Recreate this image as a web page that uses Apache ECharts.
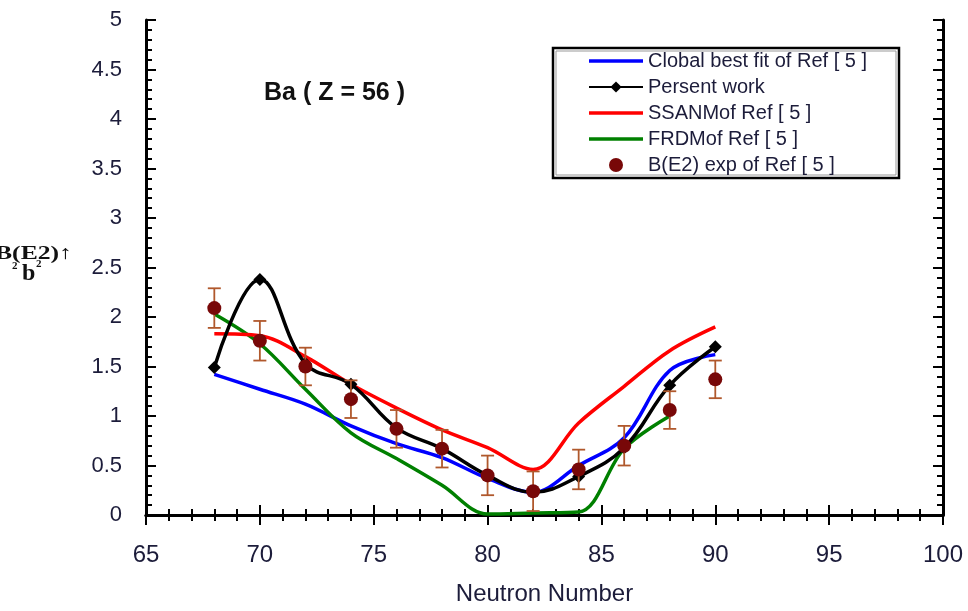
<!DOCTYPE html>
<html>
<head>
<meta charset="utf-8">
<script src="https://cdn.jsdelivr.net/npm/echarts@6/dist/echarts.min.js"></script>
<style>html,body{margin:0;padding:0;background:#fff;overflow:hidden;}#chart{width:968px;height:611px;}</style>
</head>
<body>
<div id="chart"></div>
<script>
// ---- data ----
const neutrons = [68, 70, 72, 74, 76, 78, 80, 82, 84, 86, 88, 90];
const globalFit = [1.42, 1.27, 1.12, 0.90, 0.72, 0.58, 0.37, 0.23, 0.50, 0.78, 1.46, 1.62];
const presentWork = [1.49, 2.38, 1.53, 1.32, 0.88, 0.67, 0.40, 0.23, 0.39, 0.68, 1.31, 1.70];
const ssanm = [1.83, 1.81, 1.60, 1.32, 1.08, 0.86, 0.68, 0.46, 0.93, 1.30, 1.66, 1.90];
const frdmNeutrons = [68, 70, 72, 74, 76, 78, 80, 82, 84, 86, 88];
const frdm = [2.03, 1.73, 1.27, 0.83, 0.57, 0.30, 0.01, 0.02, 0.03, 0.67, 1.00];
const expValues = [2.09, 1.76, 1.50, 1.17, 0.87, 0.67, 0.40, 0.24, 0.46, 0.70, 1.06, 1.37];
const expErrors = [0.20, 0.20, 0.19, 0.19, 0.19, 0.19, 0.20, 0.20, 0.20, 0.20, 0.19, 0.19];
const seriesNames = ['Clobal best fit of Ref [ 5 ]', 'Persent work', 'SSANMof Ref [ 5 ]', 'FRDMof Ref [ 5 ]', 'B(E2) exp of Ref [ 5 ]'];
const titleText = 'Ba ( Z = 56 )';
const xName = 'Neutron Number';

const pair = (xs, ys) => xs.map((x, i) => [x, ys[i]]);
const chart = echarts.init(document.getElementById('chart'), null, {renderer: 'canvas'});
const labelColor = '#1c1c3a';
const errColor = '#b0582c';
const lineIcon = 'path://M0,0 L54,0 L54,3.5 L0,3.5 Z';

const axisCommon = {
  axisLine: {show: true, lineStyle: {color: '#000', width: 3}},
  axisTick: {show: true, inside: true, length: 10, lineStyle: {color: '#000', width: 2}},
  minorTick: {show: true, splitNumber: 5, length: 6, lineStyle: {color: '#000', width: 2}},
  splitLine: {show: false}
};

chart.setOption({
  animation: false,
  backgroundColor: '#fff',
  grid: {left: 146, right: 25, top: 20, bottom: 91},
  xAxis: [
    Object.assign({type: 'value', min: 65, max: 100, interval: 5, position: 'bottom',
      name: xName, nameLocation: 'middle', nameGap: 67,
      nameTextStyle: {fontFamily: 'Liberation Sans', fontSize: 24, color: labelColor},
      axisLabel: {margin: 28, fontFamily: 'Liberation Sans', fontSize: 24, color: labelColor}}, axisCommon),
    Object.assign({type: 'value', min: 65, max: 100, interval: 5, position: 'top',
      axisLabel: {show: false}}, axisCommon)
  ],
  yAxis: [
    Object.assign({type: 'value', min: 0, max: 5, interval: 0.5, position: 'left',
      axisLabel: {margin: 24, fontFamily: 'Liberation Sans', fontSize: 22, color: labelColor}}, axisCommon),
    Object.assign({type: 'value', min: 0, max: 5, interval: 0.5, position: 'right',
      axisLabel: {show: false}}, axisCommon)
  ],
  legend: {
    orient: 'vertical', left: 588, top: 51, padding: 0,
    itemWidth: 54, itemHeight: 14, itemGap: 6,
    textStyle: {fontFamily: 'Liberation Sans', fontSize: 20, lineHeight: 19, color: labelColor},
    data: [
      {name: seriesNames[0], icon: lineIcon},
      {name: seriesNames[1]},
      {name: seriesNames[2], icon: lineIcon},
      {name: seriesNames[3], icon: lineIcon},
      {name: seriesNames[4], icon: 'circle'}
    ]
  },
  graphic: [
    {type: 'rect', shape: {x: 553, y: 48, width: 346, height: 130}, style: {fill: 'none', stroke: '#000', lineWidth: 2.5}, z: 1},
    {type: 'rect', shape: {x: 556, y: 51, width: 340, height: 124}, style: {fill: 'none', stroke: '#999', lineWidth: 1}, z: 1},
    {type: 'text', left: 264, top: 81, style: {text: titleText, font: 'bold 25px "Liberation Sans"', fill: '#111'}},
    {type: 'text', x: -5, y: 245, scaleX: 1.35, style: {text: 'B(E2)↑', font: 'bold 19px "Liberation Serif"', fill: '#111'}},
    {type: 'text', x: 12, y: 261, style: {text: '2', font: 'bold 11px "Liberation Serif"', fill: '#111'}},
    {type: 'text', x: 22, y: 262, style: {text: 'b', font: 'bold 24px "Liberation Serif"', fill: '#111'}},
    {type: 'text', x: 36, y: 259, style: {text: '2', font: 'bold 11px "Liberation Serif"', fill: '#111'}}
  ],
  series: [
    {name: seriesNames[0], type: 'line', data: pair(neutrons, globalFit), symbol: 'none', smooth: 0.35,
      lineStyle: {color: '#0000ff', width: 3.5}, itemStyle: {color: '#0000ff'}, z: 2},
    {name: seriesNames[3], type: 'line', data: pair(frdmNeutrons, frdm), symbol: 'none', smooth: 0.35,
      lineStyle: {color: '#008000', width: 3.5}, itemStyle: {color: '#008000'}, z: 2},
    {name: seriesNames[2], type: 'line', data: pair(neutrons, ssanm), symbol: 'none', smooth: 0.35,
      lineStyle: {color: '#ff0000', width: 3.5}, itemStyle: {color: '#ff0000'}, z: 2},
    {name: seriesNames[1], type: 'line', data: pair(neutrons, presentWork), symbol: 'diamond', symbolSize: 13,
      showAllSymbol: true, smooth: 0.4,
      lineStyle: {color: '#000', width: 3.5}, itemStyle: {color: '#000'}, z: 3},
    {name: 'errors', type: 'custom', z: 4,
      data: neutrons.map((n, i) => [n, expValues[i] - expErrors[i], expValues[i] + expErrors[i]]),
      encode: {x: 0, y: [1, 2]},
      renderItem: function (params, api) {
        const x = api.value(0);
        const top = api.coord([x, api.value(2)]);
        const bot = api.coord([x, api.value(1)]);
        const w = 6.5;
        const st = {stroke: errColor, lineWidth: 1.8};
        return {type: 'group', children: [
          {type: 'line', shape: {x1: top[0], y1: top[1], x2: bot[0], y2: bot[1]}, style: st},
          {type: 'line', shape: {x1: top[0] - w, y1: top[1], x2: top[0] + w, y2: top[1]}, style: st},
          {type: 'line', shape: {x1: bot[0] - w, y1: bot[1], x2: bot[0] + w, y2: bot[1]}, style: st}
        ]};
      }},
    {name: seriesNames[4], type: 'scatter', data: pair(neutrons, expValues), symbol: 'circle', symbolSize: 14,
      itemStyle: {color: '#780808', opacity: 1}, z: 5}
  ]
});
</script>
</body>
</html>
